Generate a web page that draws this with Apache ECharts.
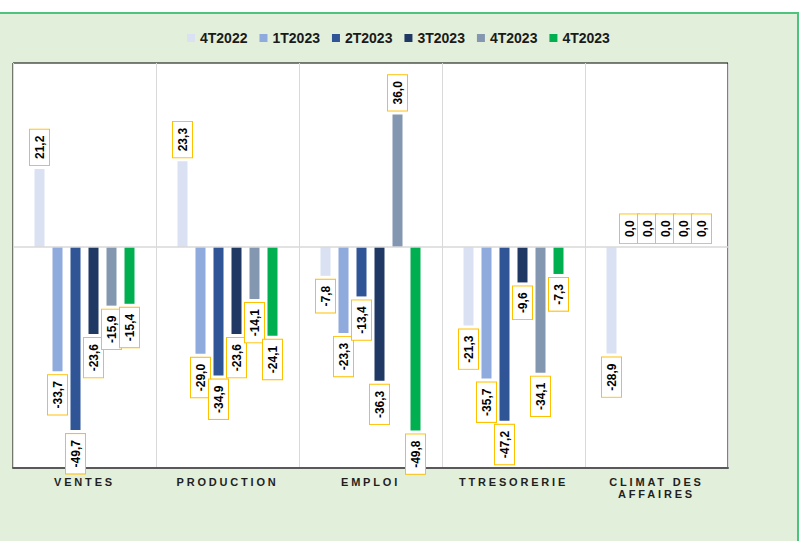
<!DOCTYPE html>
<html>
<head>
<meta charset="utf-8">
<script src="https://cdn.jsdelivr.net/npm/echarts@6/dist/echarts.min.js"></script>
<style>
  html, body { margin: 0; padding: 0; background: #fff; }
  .frame {
    position: absolute;
    left: -2px;
    top: 12px;
    width: 799px;
    height: 529px;
    background: #e2efda;
    border-top: 2px solid #4cc47d;
    border-right: 2px solid #4cc47d;
  }
  #chart { position: absolute; left: 0; top: 0; width: 801px; height: 541px; }
  /* libellés des catégories espacés comme dans Excel */
  #chart svg text[style*="11px"] { letter-spacing: 2.8px; }
</style>
</head>
<body>
<div class="frame"></div>
<div id="chart"></div>
<script>
// catégories et séries
const categories = ["VENTES", "PRODUCTION", "EMPLOI", "TTRESORERIE", "CLIMAT DES\nAFFAIRES"];
const seriesNames = ["4T2022", "1T2023", "2T2023", "3T2023", "4T2023", "4T2023 "];
const colors = ["#d9e1f2", "#8faadc", "#2f5597", "#203864", "#8497b0", "#00b050"];

const s4T2022 = [21.2, 23.3, -7.8, -21.3, -28.9];
const s1T2023 = [-33.7, -29.0, -23.3, -35.7, 0.0];
const s2T2023 = [-49.7, -34.9, -13.4, -47.2, 0.0];
const s3T2023 = [-23.6, -23.6, -36.3, -9.6, 0.0];
const s4T2023 = [-15.9, -14.1, 36.0, -34.1, 0.0];
const s4T2023b = [-15.4, -24.1, -49.8, -7.3, 0.0];

const allValues = [s4T2022, s1T2023, s2T2023, s3T2023, s4T2023, s4T2023b];

const chart = echarts.init(document.getElementById("chart"), null, { renderer: "svg" });

// étiquette tournée, collée au bout de la barre
const toItems = (vals) =>
  vals.map((v) => ({
    value: v,
    label: {
      position: v >= 0 ? "top" : "bottom",
      align: v >= 0 ? "left" : "right",
    },
  }));

const series = allValues.map((vals, i) => ({
  name: seriesNames[i],
  type: "bar",
  barWidth: 10,
  barGap: "80%",
  itemStyle: { color: colors[i] },
  data: toItems(vals),
  label: {
    show: true,
    rotate: 90,
    verticalAlign: "middle",
    distance: 4,
    formatter: (p) => p.value.toFixed(1).replace(".", ","),
    color: "#000",
    fontWeight: "bold",
    fontSize: 12,
    fontFamily: "Liberation Sans, Arial, sans-serif",
    backgroundColor: "#fff",
    borderColor: "#ffc000",
    borderWidth: 1,
    padding: [4, 6, 3, 6],
  },
  markLine:
    i === 0
      ? {
          silent: true,
          symbol: "none",
          label: { show: false },
          lineStyle: { color: "#d9d9d9", type: "solid", width: 1.5 },
          data: [{ yAxis: 0 }],
        }
      : undefined,
}));

chart.setOption({
  animation: false,
  backgroundColor: "transparent",
  legend: {
    top: 26,
    left: 182,
    itemWidth: 8,
    itemHeight: 8,
    itemGap: 12,
    icon: "rect",
    data: seriesNames,
    formatter: (n) => n.trim(),
    textStyle: {
      color: "#1a1a1a",
      fontWeight: "bold",
      fontSize: 14,
      fontFamily: "Liberation Sans, Arial, sans-serif",
    },
  },
  grid: {
    left: 13,
    right: 73,
    top: 63,
    bottom: 73,
    show: true,
    backgroundColor: "#fff",
    borderColor: "#000",
    borderWidth: 1,
  },
  xAxis: {
    type: "category",
    data: categories,
    axisLine: { onZero: false, lineStyle: { color: "#595959", width: 2 } },
    axisTick: { show: false },
    splitLine: { show: true, lineStyle: { color: "#d9d9d9" } },
    axisLabel: {
      margin: 8,
      color: "#1f1f1f",
      fontWeight: "bold",
      fontSize: 11,
      lineHeight: 12,
      fontFamily: "Liberation Sans, Arial, sans-serif",
    },
  },
  yAxis: {
    type: "value",
    min: -60,
    max: 50,
    show: false,
    splitLine: { show: false },
  },
  series: series,
});
</script>
</body>
</html>
